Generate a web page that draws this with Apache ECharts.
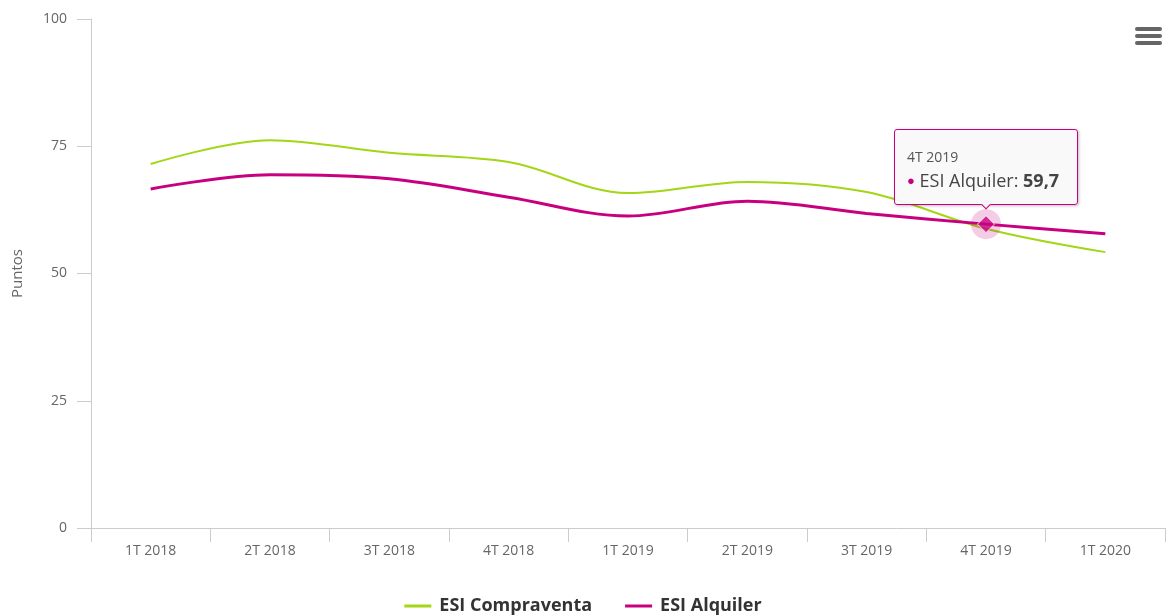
<!DOCTYPE html>
<html lang="es">
<head>
<meta charset="utf-8">
<title>ESI Compraventa y ESI Alquiler</title>
<script src="https://cdn.jsdelivr.net/npm/echarts@6/dist/echarts.min.js"></script>
<style>
  html, body { margin: 0; padding: 0; background: #ffffff; }
  #chart { width: 1166px; height: 615px; }
</style>
</head>
<body>
<div id="chart"></div>
<script>
// Quarterly categories and index values (points)
const categories = ['1T 2018', '2T 2018', '3T 2018', '4T 2018', '1T 2019', '2T 2019', '3T 2019', '4T 2019', '1T 2020'];
const compraventa = [71.5, 76.2, 73.7, 71.9, 65.8, 68.0, 66.0, 58.8, 54.2];
const alquiler = [66.6, 69.4, 68.6, 65.0, 61.3, 64.2, 61.8, 59.7, 57.8];
const yTicks = [0, 25, 50, 75, 100];

const seriesNames = ['ESI Compraventa', 'ESI Alquiler'];
const GREEN = '#a3d614';
const MAGENTA = '#c8007f';
const FONT = '"Open Sans", "Noto Sans", sans-serif';

// Quarter whose Alquiler value is highlighted with the tooltip
const hiIdx = 7;

const chart = echarts.init(document.getElementById('chart'), null, { renderer: 'canvas' });

const fmtNum = v => v.toFixed(1).replace('.', ',');

chart.setOption({
  animation: false,
  textStyle: { fontFamily: FONT },
  grid: { left: 91, right: 1, top: 19, bottom: 87, containLabel: false },
  legend: {
    data: seriesNames,
    top: 592,
    left: 'center',
    icon: 'rect',
    itemWidth: 27,
    itemHeight: 3,
    itemGap: 33,
    textStyle: { fontFamily: FONT, fontSize: 18, fontWeight: 'bold', color: '#333333', padding: [0, 0, 0, 3] }
  },
  tooltip: {
    trigger: 'item',
    triggerOn: 'none',
    alwaysShowContent: true,
    position: 'top',
    backgroundColor: 'rgba(249,249,249,0.95)',
    borderColor: MAGENTA,
    borderWidth: 1,
    borderRadius: 3,
    padding: [18, 18, 11, 12],
    extraCssText: 'box-shadow: 1px 1px 3px rgba(0,0,0,0.25);',
    formatter: p => {
      const v = p.value[1];
      return '<div style="font-family:' + FONT.replace(/"/g, "'") + ';line-height:1.3">' +
        '<div style="font-size:14px;color:#555">' + p.value[0] + '</div>' +
        '<div style="font-size:18px;color:#444;margin-top:3px">' +
        '<span style="color:' + MAGENTA + ';font-size:13px;vertical-align:2px">&#9679;</span> ' +
        'ESI Alquiler: <b>' + fmtNum(v) + '</b></div></div>';
    }
  },
  xAxis: {
    type: 'category',
    data: categories,
    boundaryGap: true,
    axisLine: { show: true, lineStyle: { color: '#cccccc', width: 1 } },
    axisTick: { show: true, length: 14, lineStyle: { color: '#cccccc' } },
    axisLabel: { color: '#666666', fontSize: 14, margin: 16, fontFamily: FONT },
    splitLine: { show: false }
  },
  yAxis: {
    type: 'value',
    min: yTicks[0],
    max: yTicks[yTicks.length - 1],
    interval: yTicks[1] - yTicks[0],
    name: 'Puntos',
    nameLocation: 'middle',
    nameRotate: 90,
    nameGap: 66,
    nameTextStyle: { color: '#666666', fontSize: 15, fontFamily: FONT },
    axisLine: { show: true, lineStyle: { color: '#cccccc', width: 1 } },
    axisTick: { show: true, length: 14, lineStyle: { color: '#cccccc' } },
    axisLabel: { color: '#666666', fontSize: 14, margin: 24, fontFamily: FONT },
    splitLine: { show: false }
  },
  series: [
    {
      name: seriesNames[0],
      type: 'line',
      data: compraventa,
      smooth: 0.35,
      showSymbol: false,
      symbol: 'none',
      color: GREEN,
      lineStyle: { color: GREEN, width: 2 },
      silent: true,
      z: 2
    },
    {
      name: seriesNames[1],
      type: 'line',
      data: alquiler,
      smooth: 0.35,
      showSymbol: false,
      symbol: 'none',
      color: MAGENTA,
      lineStyle: { color: MAGENTA, width: 3 },
      silent: true,
      z: 3
    },
    {
      // soft halo behind the highlighted point
      name: seriesNames[1],
      type: 'scatter',
      data: [[categories[hiIdx], alquiler[hiIdx]]],
      symbol: 'circle',
      symbolSize: 30,
      itemStyle: { color: 'rgba(200,0,127,0.25)' },
      silent: true,
      tooltip: { show: false },
      z: 4
    },
    {
      // highlighted point carrying the tooltip
      name: seriesNames[1],
      type: 'scatter',
      data: [[categories[hiIdx], alquiler[hiIdx]]],
      symbol: 'diamond',
      symbolSize: 17,
      itemStyle: { color: MAGENTA, borderColor: '#ffffff', borderWidth: 1 },
      emphasis: { disabled: true },
      z: 5
    }
  ],
  graphic: [
    {
      // export menu button
      type: 'group',
      right: 4,
      top: 27,
      children: [
        { type: 'rect', shape: { x: 0, y: 0, width: 27, height: 4, r: 2 }, style: { fill: '#666666' } },
        { type: 'rect', shape: { x: 0, y: 7, width: 27, height: 4, r: 2 }, style: { fill: '#666666' } },
        { type: 'rect', shape: { x: 0, y: 14, width: 27, height: 4, r: 2 }, style: { fill: '#666666' } }
      ]
    }
  ]
});

chart.dispatchAction({ type: 'showTip', seriesIndex: 3, dataIndex: 0 });
</script>
</body>
</html>
